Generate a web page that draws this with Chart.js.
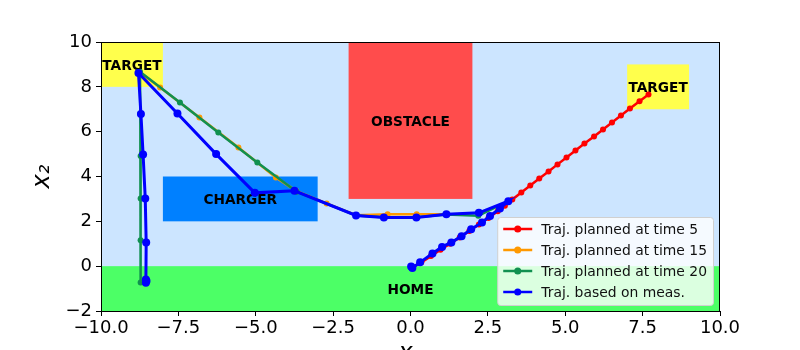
<!DOCTYPE html>
<html>
<head>
<meta charset="utf-8">
<script src="https://cdn.jsdelivr.net/npm/chart.js@4/dist/chart.umd.min.js"></script>
<style>
  html, body { margin: 0; padding: 0; background: #fff; overflow: hidden; width: 800px; height: 350px; }
  canvas { display: block; }
</style>
</head>
<body>
<canvas id="trajChart" width="800" height="372"></canvas>
<script>
// trajectories (x1, x2)
const plan5X = [0.05, 0.35, 0.66, 0.97, 1.28, 1.59, 1.90, 2.21, 2.52, 2.82, 3.05, 3.29, 3.58, 3.87, 4.16, 4.46, 4.75, 5.04, 5.33, 5.62, 5.93, 6.22, 6.51, 6.80, 7.09, 7.40, 7.69];
const plan5Y = [-0.05, 0.17, 0.45, 0.73, 1.00, 1.28, 1.57, 1.86, 2.15, 2.45, 2.70, 2.97, 3.29, 3.60, 3.91, 4.22, 4.54, 4.85, 5.16, 5.47, 5.78, 6.10, 6.41, 6.72, 7.03, 7.36, 7.66];

const plan15X = [1.16, 0.20, -0.74, -1.76, -2.71, -3.70, -4.35, -5.56, -6.82, -8.09, -8.75];
const plan15Y = [2.32, 2.32, 2.32, 2.27, 2.80, 3.36, 3.96, 5.29, 6.63, 7.97, 8.65];

const plan20X = [3.16, 2.19, 1.16, 0.19, -0.86, -1.76, -3.68, -4.95, -6.21, -7.45, -8.74, -8.73, -8.72, -8.72, -8.72, -8.72];
const plan20Y = [2.90, 2.25, 2.30, 2.18, 2.18, 2.26, 3.32, 4.62, 5.96, 7.30, 8.67, 6.80, 4.91, 3.02, 1.16, -0.73];

const measX = [0.02, 0.06, 0.31, 0.71, 1.02, 1.32, 1.65, 1.96, 2.31, 2.57, 2.89, 3.16, 2.21, 1.16, 0.19, -0.86, -1.76, -3.75, -5.03, -6.28, -7.53, -8.79, -8.71, -8.64, -8.57, -8.54, -8.55, -8.53, -8.55];
const measY = [-0.02, -0.08, 0.17, 0.57, 0.86, 1.06, 1.34, 1.65, 1.95, 2.24, 2.57, 2.90, 2.38, 2.32, 2.17, 2.17, 2.26, 3.36, 3.27, 5.00, 6.81, 8.62, 6.79, 4.98, 3.02, 1.06, -0.60, -0.66, -0.74];

const seriesLabels = ['Traj. planned at time 5', 'Traj. planned at time 15', 'Traj. planned at time 20', 'Traj. based on meas.'];

// map regions
const regionNames = ['HOME', 'OBSTACLE', 'TARGET', 'TARGET', 'CHARGER'];
const regionX0 = [-10, -2, -10, 7, -8];
const regionX1 = [10, 2, -8, 9, -3];
const regionY0 = [-2, 3, 8, 7, 2];
const regionY1 = [0, 10, 10, 9, 4];

const xTicks = [-10, -7.5, -5, -2.5, 0, 2.5, 5, 7.5, 10];
const yTicks = [-2, 0, 2, 4, 6, 8, 10];

const regionColors = ['#4cff66', '#ff4c4c', '#ffff4c', '#ffff4c', '#0080ff'];
const lineColors = ['#ff0000', '#ff9900', '#109050', '#0000ff'];

function pts(xs, ys) {
    return xs.map((x, i) => ({ x: x, y: ys[i] }));
}

function minus(v) {
    return v < 0 ? '\u2212' + Math.abs(v) : '' + v;
}

const mapPlugin = {
    id: 'mapPlugin',
    beforeDatasetsDraw(chart) {
        const ctx = chart.ctx;
        const a = chart.chartArea;
        const xs = chart.scales.x, ys = chart.scales.y;
        ctx.save();
        ctx.fillStyle = '#cce5ff';
        ctx.fillRect(a.left, a.top, a.right - a.left, a.bottom - a.top);
        regionNames.forEach((name, i) => {
            const px0 = xs.getPixelForValue(regionX0[i]);
            const px1 = xs.getPixelForValue(regionX1[i]);
            const py0 = ys.getPixelForValue(regionY0[i]);
            const py1 = ys.getPixelForValue(regionY1[i]);
            ctx.fillStyle = regionColors[i];
            ctx.fillRect(px0, py1, px1 - px0, py0 - py1);
        });
        ctx.fillStyle = '#000';
        ctx.font = 'bold 13.7px "DejaVu Sans"';
        ctx.textAlign = 'center';
        ctx.textBaseline = 'middle';
        regionNames.forEach((name, i) => {
            const cx = xs.getPixelForValue((regionX0[i] + regionX1[i]) / 2);
            const cy = ys.getPixelForValue((regionY0[i] + regionY1[i]) / 2);
            ctx.fillText(name, cx, cy + 2);
        });
        ctx.restore();
    },
    afterDatasetsDraw(chart) {
        const ctx = chart.ctx;
        const a = chart.chartArea;
        ctx.save();
        // frame
        ctx.strokeStyle = '#000';
        ctx.lineWidth = 1;
        ctx.strokeRect(a.left + 0.5, a.top + 0.5, a.right - a.left - 1, a.bottom - a.top);

        // legend, lower right
        ctx.font = '13.9px "DejaVu Sans"';
        const ds = chart.data.datasets;
        let tw = 0;
        ds.forEach(d => { tw = Math.max(tw, ctx.measureText(d.label).width); });
        const w = tw + 50;
        const h = ds.length * 21 + 4;
        const right = a.right - 7;
        const bottom = a.bottom - 6;
        const left = right - w;
        const top = bottom - h;
        ctx.fillStyle = 'rgba(255,255,255,0.8)';
        ctx.strokeStyle = '#d0d0d0';
        ctx.beginPath();
        ctx.roundRect(left + 0.5, top + 0.5, w, h, 3);
        ctx.fill();
        ctx.stroke();
        ctx.textAlign = 'left';
        ctx.textBaseline = 'middle';
        ds.forEach((d, i) => {
            const cy = top + 12 + i * 21;
            ctx.strokeStyle = d.borderColor;
            ctx.lineWidth = 2.5;
            ctx.beginPath();
            ctx.moveTo(left + 6, cy);
            ctx.lineTo(left + 35, cy);
            ctx.stroke();
            ctx.fillStyle = d.borderColor;
            ctx.beginPath();
            ctx.arc(left + 20.5, cy, 3.5, 0, Math.PI * 2);
            ctx.fill();
            ctx.fillStyle = '#111';
            ctx.fillText(d.label, left + 44, cy + 1);
        });
        ctx.restore();
    }
};

const series = [pts(plan5X, plan5Y), pts(plan15X, plan15Y), pts(plan20X, plan20Y), pts(measX, measY)];

const ctx = document.getElementById('trajChart').getContext('2d');
new Chart(ctx, {
    type: 'scatter',
    data: {
        datasets: series.map((s, i) => ({
            label: seriesLabels[i],
            data: s,
            order: 3 - i,
            showLine: true,
            borderColor: lineColors[i],
            backgroundColor: lineColors[i],
            borderWidth: i === 3 ? 3 : 2.5,
            pointRadius: i === 3 ? 4 : 3,
            pointBorderWidth: 0,
            tension: 0
        }))
    },
    options: {
        responsive: false,
        animation: false,
        layout: { padding: { top: 42, right: 80, left: 28, bottom: 4 } },
        plugins: {
            legend: { display: false },
            tooltip: { enabled: false }
        },
        scales: {
            x: {
                type: 'linear',
                min: -10,
                max: 10,
                afterBuildTicks: s => { s.ticks = xTicks.map(v => ({ value: v })); },
                afterFit: s => { s.height = 57; },
                ticks: {
                    color: '#000',
                    font: { family: 'DejaVu Sans', size: 18 },
                    padding: 2,
                    maxRotation: 0,
                    callback: v => (v < 0 ? '\u2212' : '') + Math.abs(v).toFixed(1)
                },
                grid: { drawOnChartArea: false, drawTicks: true, tickLength: 5, color: '#000' },
                border: { display: true, color: '#000' },
                title: {
                    display: true,
                    text: 'x\u2081',
                    color: '#000',
                    font: { family: 'DejaVu Sans', size: 24, style: 'italic' },
                    padding: { top: 0, bottom: 0 }
                }
            },
            y: {
                type: 'linear',
                min: -2,
                max: 10,
                afterBuildTicks: s => { s.ticks = yTicks.map(v => ({ value: v })); },
                afterFit: s => { s.width = 73; },
                ticks: {
                    color: '#000',
                    font: { family: 'DejaVu Sans', size: 18 },
                    padding: 4,
                    callback: v => minus(v)
                },
                grid: { drawOnChartArea: false, drawTicks: true, tickLength: 5, color: '#000' },
                border: { display: true, color: '#000' },
                title: {
                    display: true,
                    text: 'x\u2082',
                    color: '#000',
                    font: { family: 'DejaVu Sans', size: 24, style: 'italic' },
                    padding: { top: 0, bottom: 0 }
                }
            }
        }
    },
    plugins: [mapPlugin]
});
</script>
</body>
</html>
